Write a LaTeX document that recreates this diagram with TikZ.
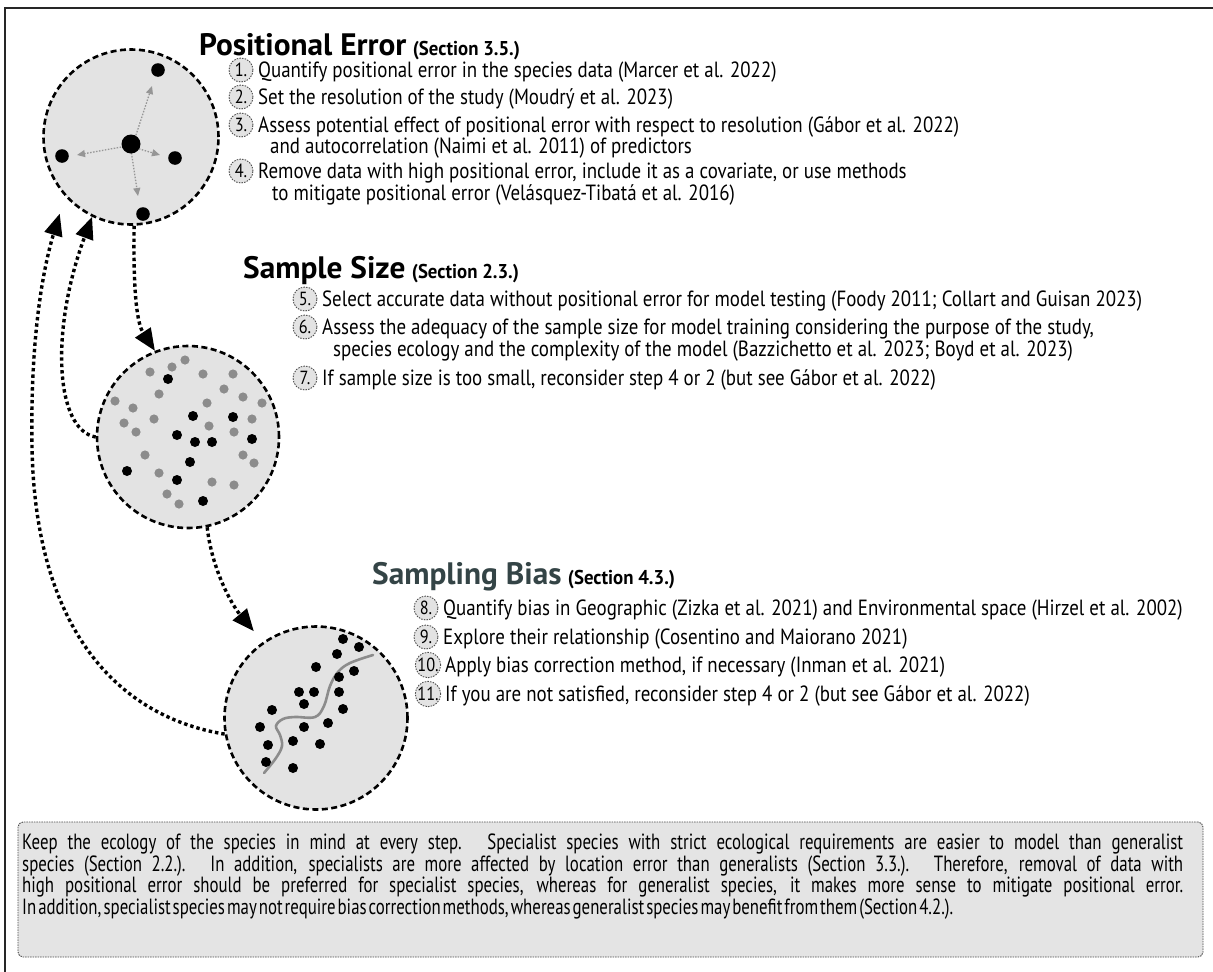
\documentclass[tikz,border=0pt]{standalone}
\usepackage{fontspec}
\usetikzlibrary{arrows.meta}
\newfontfamily\itemfamily[FakeStretch=0.86]{PT Sans}
\newfontfamily\notefamily[FakeStretch=0.765, WordSpace=0.6]{PT Sans}
\newfontfamily\headfamily[FakeStretch=1.01]{PT Sans}
\newfontfamily\secfamily[FakeStretch=0.94]{PT Sans}
\definecolor{circfill}{RGB}{227,227,227}
\definecolor{dotgray}{RGB}{140,140,140}
\definecolor{arrgray}{RGB}{150,150,150}
\definecolor{biascol}{RGB}{52,68,70}
\definecolor{notefill}{RGB}{228,228,228}
\newcommand\itemfont{\itemfamily\fontsize{22pt}{22pt}\selectfont}
\newcommand\numfont{\itemfamily\fontsize{19pt}{20pt}\selectfont}
\newcommand\notefont{\notefamily\fontsize{22pt}{22pt}\selectfont}
\newcommand\headfont{\headfamily\bfseries\fontsize{31pt}{32pt}\selectfont}
\newcommand\secfont{\secfamily\bfseries\fontsize{20pt}{20pt}\selectfont}
\newcommand\stepline[5]{%
  \node[numc] (n#1) at ({#3-17},#4) {#2};
  \node[itemtxt] (s#1) at (#3,{#4+7}) {#5};}
\tikzset{
  bigcirc/.style={circle, draw=black, line width=2.6pt, dash pattern=on 6pt off 3.5pt, fill=circfill, inner sep=0pt, minimum size=#1},
  numc/.style={circle, draw=black!70, line width=0.9pt, dash pattern=on 1.5pt off 1.2pt, fill=circfill, inner sep=0pt, minimum size=24pt, font=\numfont},
  itemtxt/.style={anchor=base west, inner sep=0pt, font=\itemfont},
  headtxt/.style={anchor=base west, inner sep=0pt, font=\headfont},
  sectxt/.style={anchor=base west, inner sep=0pt, font=\secfont},
  notetxt/.style={anchor=base west, inner sep=0pt, font=\notefont},
  bigarrow/.style={line width=3.4pt, dash pattern=on 3.4pt off 3pt, -{Triangle[length=22pt,width=18pt]}},
  smallarrow/.style={arrgray, line width=1.3pt, dash pattern=on 1.5pt off 1.5pt, -{Triangle[length=8pt,width=7pt]}},
  notebox/.style={draw=black!70, dash pattern=on 1.5pt off 1pt, line width=0.9pt, fill=notefill, rounded corners=5pt, inner sep=0pt},
}
\begin{document}
\begin{tikzpicture}[x=1pt,y=-1pt]
\useasboundingbox (0,0) rectangle (1213,972);
\fill[white] (0,0) rectangle (1213,972);
% frame
\draw[line width=1.6pt, black!85] (5,972) -- (5,8) -- (1213,8);

% ---------- big circles ----------
\node[bigcirc=175pt] (c1) at (131,137) {};
\node[bigcirc=182pt] (c2) at (188,437) {};
\node[bigcirc=183pt] (c3) at (316,718) {};

% circle 1 content
\draw[smallarrow] (135,138) -- (152,86);
\draw[smallarrow] (127,146) -- (77,155);
\draw[smallarrow] (136,148) -- (160,155);
\draw[smallarrow] (131,150) -- (138,196);
\fill (131,144) circle (9.5pt);
\foreach \p in {(158,70),(62,156),(175,158),(143,214)} \fill \p circle (6.8pt);

% circle 2 content
\foreach \p in {(185,360),(150,372),(172,367),(203,374),(233,374),(159,394),(224,389),(115,401),(133,408),(207,403),(243,397),(262,403),(124,423),(154,419),(209,426),(252,419),(136,432),(234,432),(145,455),(243,455),(254,463),(159,473),(212,482),(234,485),(167,494),(179,504)}
  \fill[dotgray] \p circle (4.6pt);
\foreach \p in {(168,379),(193,416),(233,417),(177,435),(195,442),(212,442),(252,439),(190,462),(127,471),(177,480),(203,501)}
  \fill \p circle (5pt);

% circle 3 content
\draw[dotgray, line width=2.6pt, line cap=round] plot[smooth, tension=0.6] coordinates {(264,773) (276,758) (282,746) (280,735) (276,726) (283,719) (295,717) (315,717) (324,706) (330,686) (338,672) (350,663) (373,655)};
\foreach \p in {(343,639),(359,647),(337,654),(316,667),(354,671),(339,677),(299,692),(314,692),(339,692),(304,704),(343,709),(272,710),(328,723),(260,727),(304,727),(293,741),(320,744),(268,745),(266,762),(293,768)}
  \fill \p circle (5pt);

% ---------- connectors ----------
\draw[bigarrow] (c1.272) .. controls (133,300) and (138,325) .. (c2.111);
\draw[bigarrow] (c2.180) .. controls (55,430) and (50,330) .. (c1.244);
\draw[bigarrow, shorten >=18pt] (c3.190) .. controls (110,715) and (35,620) .. (32,447) .. controls (30,330) and (45,262) .. (c1.222);
\draw[bigarrow, shorten >=14pt] (c2.282) .. controls (212,570) and (232,605) .. (c3.125);

% ---------- section 1 ----------
\node[headtxt] (t1) at (199,55) {Positional Error};
\node[sectxt] (t1s) at ([xshift=6pt]t1.base east) {(Section 3.5.)};
\stepline{1}{1.}{258}{70}{Quantify positional error in the species data (Marcer et al. 2022)}
\stepline{2}{2.}{258}{97}{Set the resolution of the study (Moudrý et al. 2023)}
\stepline{3}{3.}{258}{125}{Assess potential effect of positional error with respect to resolution (Gábor et al. 2022)}
\node[itemtxt] (s3b) at (270,153) {and autocorrelation (Naimi et al. 2011) of predictors};
\stepline{4}{4.}{258}{171}{Remove data with high positional error, include it as a covariate, or use methods}
\node[itemtxt] (s4b) at (272,200) {to mitigate positional error (Velásquez-Tibatá et al. 2016)};

% ---------- section 2 ----------
\node[headtxt] (t2) at (243,278) {Sample Size};
\node[sectxt] (t2s) at ([xshift=6pt]t2.base east) {(Section 2.3.)};
\stepline{5}{5.}{322}{299}{Select accurate data without positional error for model testing (Foody 2011; Collart and Guisan 2023)}
\stepline{6}{6.}{322}{327}{Assess the adequacy of the sample size for model training considering the purpose of the study,}
\node[itemtxt] (s6b) at (333,356) {species ecology and the complexity of the model (Bazzichetto et al. 2023; Boyd et al. 2023)};
\stepline{7}{7.}{322}{378}{If sample size is too small, reconsider step 4 or 2 (but see Gábor et al. 2022)}

% ---------- section 3 ----------
\node[headtxt, text=biascol] (t3) at (372,584) {Sampling Bias};
\node[sectxt] (t3s) at ([xshift=6pt]t3.base east) {(Section 4.3.)};
\stepline{8}{8.}{443}{608}{Quantify bias in Geographic (Zizka et al. 2021) and Environmental space (Hirzel et al. 2002)}
\stepline{9}{9.}{443}{637}{Explore their relationship (Cosentino and Maiorano 2021)}
\stepline{10}{10.}{445}{665}{Apply bias correction method, if necessary (Inman et al. 2021)}
\stepline{11}{11.}{445}{694}{If you are not satisfied, reconsider step 4 or 2 (but see Gábor et al. 2022)}

% ---------- note box ----------
\node[notebox, minimum width=1185pt, minimum height=135pt] (note) at (610.5,889.5) {};
\node[notetxt] (nl1) at (22,849) {\makebox[1161pt][s]{Keep the ecology of the species in mind at every step. Specialist species with strict ecological requirements are easier to model than generalist}};
\node[notetxt] (nl2) at (22,871) {\makebox[1161pt][s]{species (Section 2.2.). In addition, specialists are more affected by location error than generalists (Section 3.3.). Therefore, removal of data with}};
\node[notetxt] (nl3) at (22,892.5) {\makebox[1161pt][s]{high positional error should be preferred for specialist species, whereas for generalist species, it makes more sense to mitigate positional error.}};
\node[notetxt] (nl4) at (22,914) {\makebox[931pt][s]{In addition, specialist species may not require bias correction methods, whereas generalist species may benefit from them (Section 4.2.).}};
\end{tikzpicture}
\end{document}
